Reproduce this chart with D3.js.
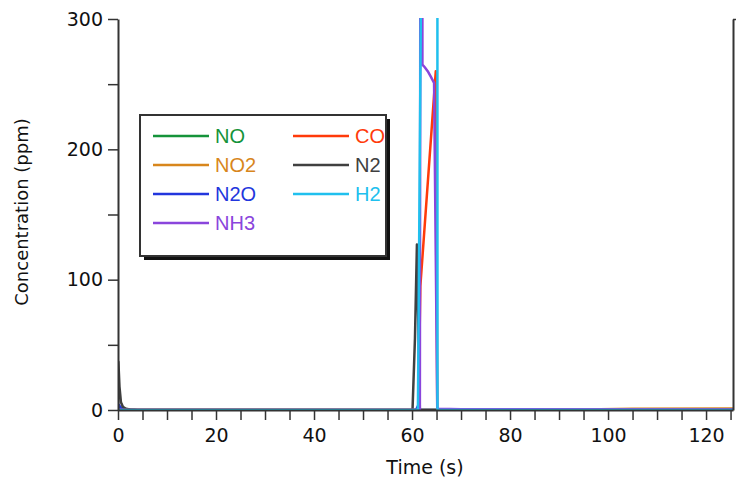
<!DOCTYPE html>
<html><head><meta charset="utf-8">
<script src="https://cdn.jsdelivr.net/npm/d3@7"></script>
<style>body{margin:0;background:#fff}svg{display:block}</style>
</head><body>
<svg id="c" width="736" height="479"></svg>
<script>
// ---- data (time in s, concentration in ppm) ----
const seriesNames = ["NO", "NO2", "N2O", "NH3", "CO", "N2", "H2"];
const seriesColors = ["#15933a", "#d8861c", "#2236dd", "#8a45dc", "#ff3a0a", "#404040", "#20c0ee"];
const noT  = [0, 0.3, 0.8, 1.4, 2.5, 4, 125.5];
const noV  = [0, 1.5, 2, 1, 0.3, 0, 0];
const no2T = [0, 1, 60, 64.9, 65.15, 66, 95, 105, 125.5];
const no2V = [0, 0.2, 0, 0, 0, 0, 0.3, 1, 1.2];
const n2oT = [0, 0.2, 0.5, 1, 2, 60.8, 61.2, 61.6, 125.5];
const n2oV = [0, 4, 2, 0.5, 0, 0, 3, 0, 0];
const nh3T = [0, 61.6, 62.0, 62.12, 62.6, 63.2, 63.8, 64.5, 65.15, 65.3, 70, 125.5];
const nh3V = [0, 0, 1500, 265, 263, 260, 256, 251, 2, 1, 0.6, 0.4];
const coT  = [0, 61.3, 61.7, 64.85, 65.15, 125.5];
const coV  = [0, 0, 95, 260, 0, 0];
const n2T  = [0, 0.08, 0.3, 0.6, 1.0, 1.6, 2.5, 4, 60.1, 60.6, 61.0, 61.6, 125.5];
const n2V  = [0, 37, 18, 6, 2.5, 1, 0.4, 0, 0, 55, 127, 0, 0];
const h2T  = [0, 61.2, 61.85, 62.0, 65.1, 65.2, 125.5];
const h2V  = [0, 0, 330, 1500, 1500, 0, 0];
const xTicks = [0, 20, 40, 60, 80, 100, 120];
const yTicks = [0, 100, 200, 300];

const seriesData = [[noT, noV], [no2T, no2V], [n2oT, n2oV], [nh3T, nh3V], [coT, coV], [n2T, n2V], [h2T, h2V]];
const drawOrder = [0, 1, 2, 5, 4, 3, 6];

const svg = d3.select("#c");
const x = d3.scaleLinear().domain([0, 125.5]).range([118, 733]);
const y = d3.scaleLinear().domain([0, 300]).range([410, 19]);
const axisFont = "DejaVu Sans, Verdana, sans-serif";

svg.append("defs").append("clipPath").attr("id", "clip")
  .append("rect").attr("x", 118).attr("y", 18).attr("width", 616).attr("height", 393);

const line = d3.line().x(d => x(d[0])).y(d => y(d[1]));
const plot = svg.append("g").attr("clip-path", "url(#clip)");
drawOrder.forEach(i => {
  const [T, V] = seriesData[i];
  plot.append("path").datum(T.map((t, k) => [t, V[k]]))
    .attr("d", line).attr("fill", "none")
    .attr("stroke", seriesColors[i]).attr("stroke-width", 2.5)
    .attr("stroke-linejoin", "round");
});

// axes
const xAxis = d3.axisBottom(x).tickValues(d3.range(0, 126, 5)).tickSize(10).tickSizeOuter(0)
  .tickFormat(d => xTicks.includes(d) ? d : "");
const gx = svg.append("g").attr("transform", "translate(0,410)").call(xAxis);
gx.select(".domain").attr("stroke", "#333").attr("stroke-width", 2);
gx.selectAll(".tick line").attr("stroke", "#333").attr("stroke-width", 1.5);
gx.selectAll("text").attr("font-family", axisFont).attr("font-size", 19).attr("fill", "#111").attr("dy", "1.05em").attr("y", 12);

const yAxis = d3.axisLeft(y).tickValues(d3.range(0, 301, 50)).tickSize(10).tickSizeOuter(0)
  .tickFormat(d => yTicks.includes(d) ? d : "");
const gy = svg.append("g").attr("transform", "translate(118,0)").call(yAxis);
gy.select(".domain").attr("stroke", "#333").attr("stroke-width", 2);
gy.selectAll(".tick line").attr("stroke", "#333").attr("stroke-width", 1.5);
gy.selectAll("text").attr("font-family", axisFont).attr("font-size", 19).attr("fill", "#111").attr("x", -15);

// right frame line
const yR = d3.axisRight(y).tickValues([300]).tickSize(3).tickSizeOuter(0).tickFormat("");
const gr = svg.append("g").attr("transform", "translate(733,0)").call(yR);
gr.select(".domain").attr("stroke", "#333").attr("stroke-width", 2);
gr.selectAll(".tick line").attr("stroke", "#333").attr("stroke-width", 1.5);

svg.append("text").attr("x", 425).attr("y", 474).attr("text-anchor", "middle")
  .attr("font-family", axisFont).attr("font-size", 19).attr("fill", "#111").text("Time (s)");
svg.append("text").attr("transform", "translate(28,212) rotate(-90)").attr("text-anchor", "middle")
  .attr("font-family", axisFont).attr("font-size", 18).attr("fill", "#111").text("Concentration (ppm)");

// legend
const lg = svg.append("g");
lg.append("rect").attr("x", 144).attr("y", 119).attr("width", 246).attr("height", 141).attr("fill", "#111");
lg.append("rect").attr("x", 140).attr("y", 115).attr("width", 246).attr("height", 141)
  .attr("fill", "#fff").attr("stroke", "#333").attr("stroke-width", 2);
const legPos = [[0,0],[0,1],[0,2],[0,3],[1,0],[1,1],[1,2]];
seriesNames.forEach((n, i) => {
  const [c, r] = legPos[i];
  const lx = 153 + c * 140, ly = 136 + r * 29;
  lg.append("line").attr("x1", lx).attr("x2", lx + 56).attr("y1", ly).attr("y2", ly)
    .attr("stroke", seriesColors[i]).attr("stroke-width", 2.5);
  lg.append("text").attr("x", lx + 62).attr("y", ly + 7).attr("font-family", "Liberation Sans, Arial, sans-serif")
    .attr("font-size", 20).attr("fill", seriesColors[i]).text(n);
});
</script>
</body></html>
